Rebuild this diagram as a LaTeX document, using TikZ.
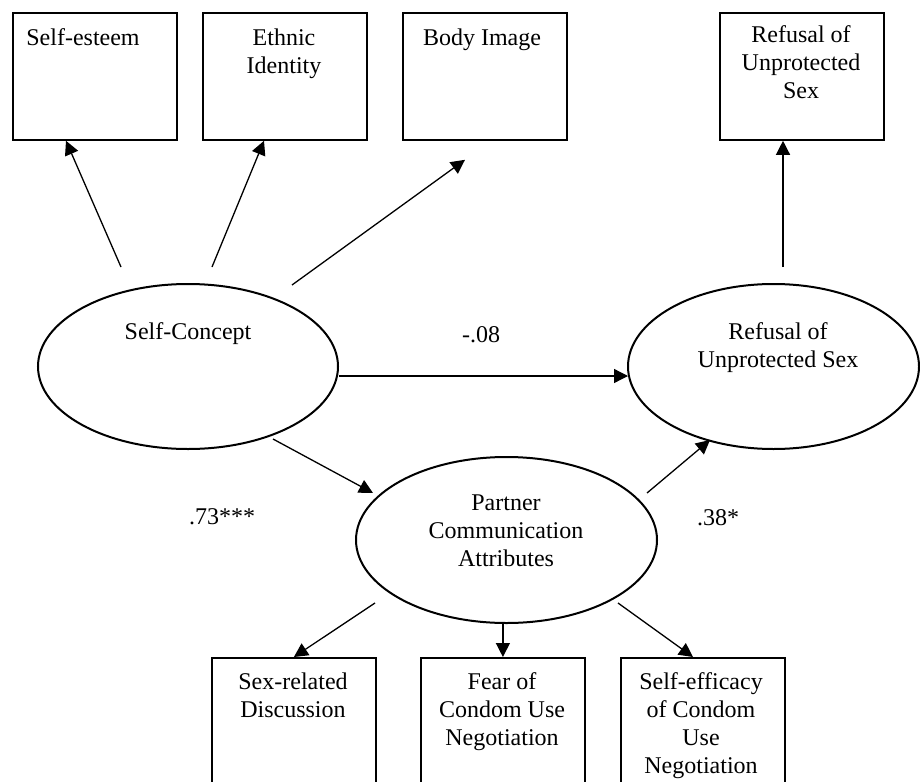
\documentclass[tikz,border=0pt]{standalone}
\usepackage{fontspec}
\setmainfont{Liberation Serif}
\usetikzlibrary{arrows.meta,shapes.geometric,calc}
\begin{document}
\begin{tikzpicture}[x=0.5pt,y=-0.5pt,
  box/.style={draw, line width=0.9pt, minimum width=82pt, minimum height=63.5pt, inner sep=0pt, anchor=north west},
  ell/.style={draw, ellipse, line width=1pt, inner sep=0pt},
  txt/.style={font=\fontsize{12}{14}\selectfont, align=center, inner sep=0pt},
  arr/.style={line width=0.65pt, -{Triangle[length=7pt,width=7pt]}}
]
\clip (0,0) rectangle (920,781);
\fill[white] (0,0) rectangle (920,781);
% top boxes
\node[box] (se) at (12,12) {};
\node[box] (ei) at (202,12) {};
\node[box] (bi) at (402,12) {};
\node[box] (rb) at (719,12) {};
% bottom boxes
\node[box, minimum height=80pt] (sr) at (211,657) {};
\node[box, minimum height=80pt] (fc) at (420,657) {};
\node[box, minimum height=80pt] (sf) at (620,657) {};
% ellipses
\node[ell, minimum width=150pt, minimum height=82.5pt] (sc) at (188,366.5) {};
\node[ell, minimum width=145.5pt, minimum height=82.5pt] (rs) at (773.5,366.5) {};
\node[ell, minimum width=150.5pt, minimum height=83pt] (pc) at (506.5,540) {};
% box texts
\node[txt, anchor=north] (tse) at (83,28) {Self-esteem};
\node[txt, anchor=north] (tei) at (284,28) {Ethnic\\Identity};
\node[txt, anchor=north] (tbi) at (482,28) {Body Image};
\node[txt, anchor=north] (trb) at (801,25) {Refusal of\\Unprotected\\Sex};
\node[txt, anchor=north] (tsr) at (293,672) {Sex-related\\Discussion};
\node[txt, anchor=north] (tfc) at (502,672) {Fear of\\Condom Use\\Negotiation};
\node[txt, anchor=north] (tsf) at (701,672) {Self-efficacy\\of Condom\\Use\\Negotiation};
% ellipse texts
\node[txt, anchor=north] (tsc) at (188,322) {Self-Concept};
\node[txt, anchor=north] (trs) at (778,322) {Refusal of\\Unprotected Sex};
\node[txt, anchor=north] (tpc) at (506,494) {Partner\\Communication\\Attributes};
% path labels
\node[txt] (l1) at (481,335) {-.08};
\node[txt] (l2) at (222,517) {.73***};
\node[txt] (l3) at (718,518) {.38*};
% arrows
\draw[arr] ($(sc.center)+(-67,-99.5)$) -- ($(se.south west)+(54,0)$);
\draw[arr] ($(sc.center)+(24,-99.5)$) -- ($(ei.south west)+(62,0)$);
\draw[arr] ($(sc.center)+(104,-81.5)$) -- ($(bi.south west)+(63,19)$);
\draw[arr] ($(sc.east)+(0,9.5)$) -- ($(rs.west)+(1,9.5)$);
\draw[arr] ($(sc.center)+(85,72.5)$) -- ($(pc.center)+(-133.5,-47)$);
\draw[arr] ($(pc.center)+(140.5,-47)$) -- ($(rs.center)+(-63.5,73.5)$);
\draw[arr] ($(rs.center)+(9.5,-99.5)$) -- ($(rb.south west)+(64,0)$);
\draw[arr] ($(pc.center)+(-131.5,63)$) -- (sr.north);
\draw[arr] (pc.south -| fc.north) -- (fc.north);
\draw[arr] ($(pc.center)+(111.5,63)$) -- ($(sf.north west)+(73,0)$);
\end{tikzpicture}
\end{document}
